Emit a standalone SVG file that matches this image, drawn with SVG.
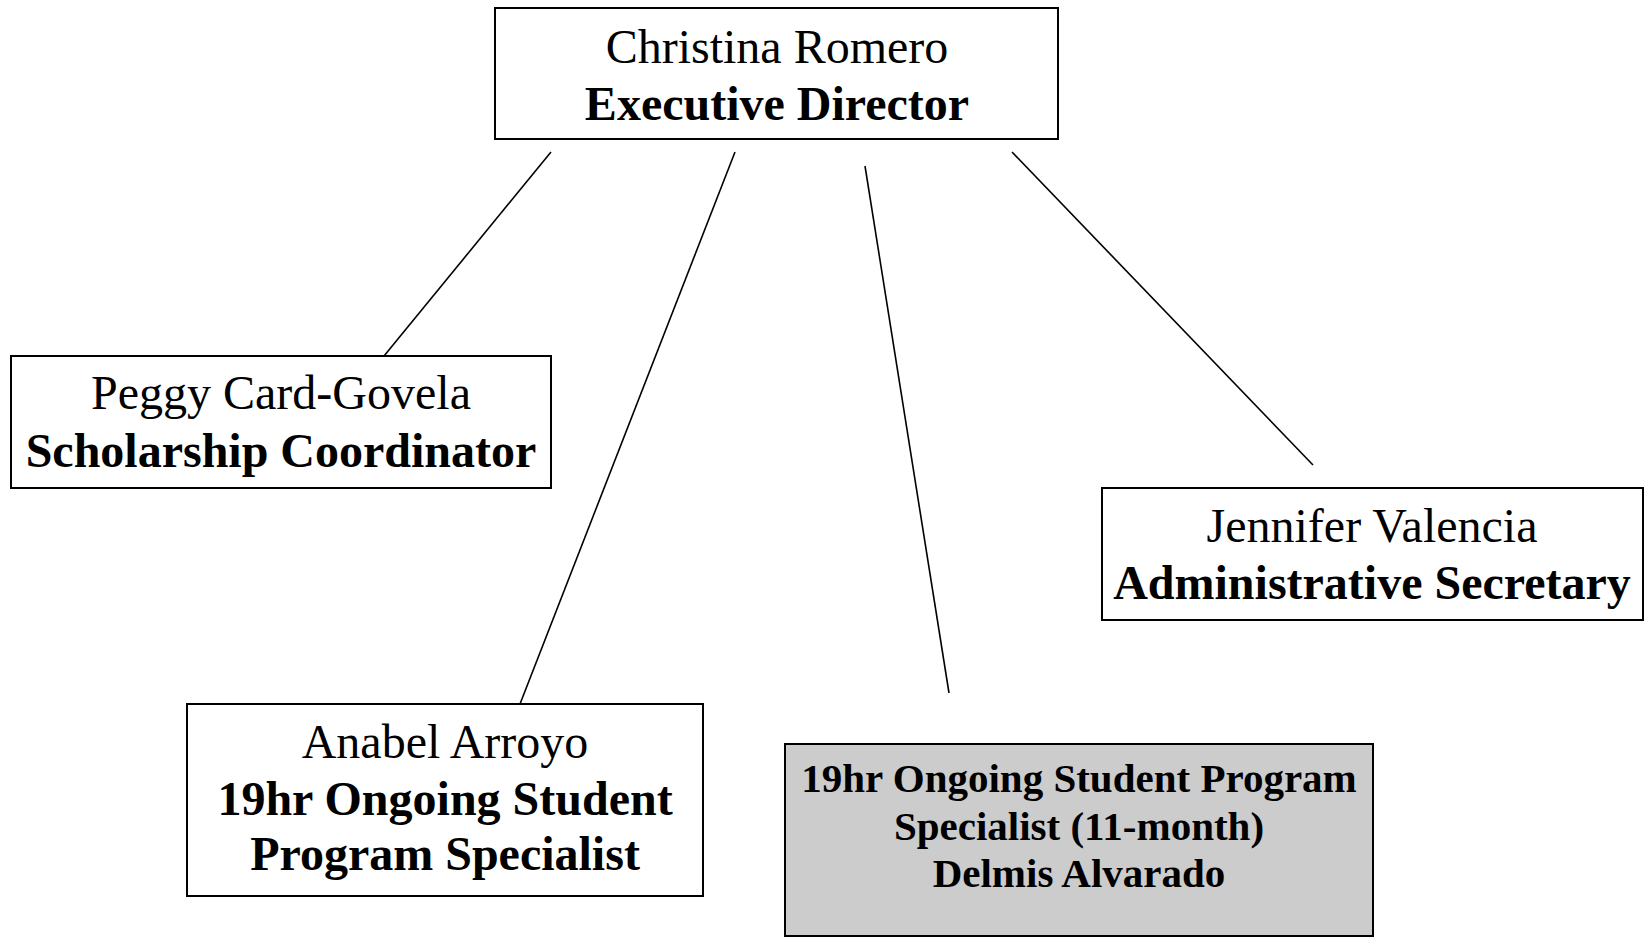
<svg xmlns="http://www.w3.org/2000/svg" width="1646" height="937" viewBox="0 0 1646 937">
<style>
.box{fill:#ffffff;stroke:#000000;stroke-width:2}
.grey{fill:#cccccc;stroke:#000000;stroke-width:2}
.t{font-family:"Liberation Serif","Times New Roman",serif;font-size:48px;fill:#000;text-anchor:middle}
.b{font-weight:bold}
.s{font-family:"Liberation Serif","Times New Roman",serif;font-size:41px;font-weight:bold;fill:#000;text-anchor:middle}
.c{stroke:#000;stroke-width:1.6;fill:none}
</style>
<rect width="1646" height="937" fill="#ffffff"/>
<g id="connectors">
<line class="c" x1="551" y1="152" x2="384" y2="356"/>
<line class="c" x1="735" y1="152" x2="520" y2="704"/>
<line class="c" x1="865" y1="166" x2="949" y2="693"/>
<line class="c" x1="1012" y1="152" x2="1313" y2="465"/>
</g>
<g id="executive-director">
<rect class="box" x="495" y="8" width="563" height="131"/>
<text class="t" x="777" y="63">Christina Romero</text>
<text class="t b" x="777" y="120">Executive Director</text>
</g>
<g id="scholarship-coordinator">
<rect class="box" x="11" y="356" width="540" height="132"/>
<text class="t" x="281" y="409">Peggy Card-Govela</text>
<text class="t b" x="281" y="467">Scholarship Coordinator</text>
</g>
<g id="administrative-secretary">
<rect class="box" x="1102" y="488" width="541" height="132"/>
<text class="t" x="1372" y="542">Jennifer Valencia</text>
<text class="t b" x="1372" y="599">Administrative Secretary</text>
</g>
<g id="program-specialist">
<rect class="box" x="187" y="704" width="516" height="192"/>
<text class="t" x="445" y="758">Anabel Arroyo</text>
<text class="t b" x="445" y="815">19hr Ongoing Student</text>
<text class="t b" x="445" y="870">Program Specialist</text>
</g>
<g id="program-specialist-11-month">
<rect class="grey" x="785" y="744" width="588" height="192"/>
<text class="s" x="1079" y="792">19hr Ongoing Student Program</text>
<text class="s" x="1079" y="840">Specialist (11-month)</text>
<text class="s" x="1079" y="887">Delmis Alvarado</text>
</g>
</svg>
